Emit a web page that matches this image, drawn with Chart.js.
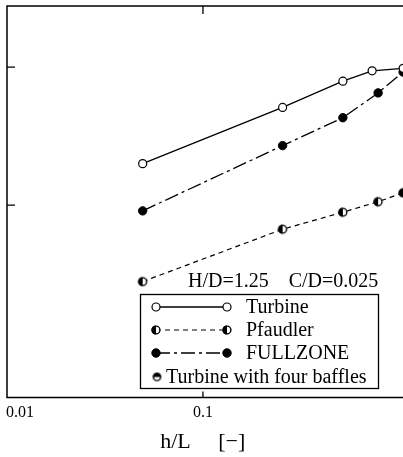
<!DOCTYPE html>
<html><head><meta charset="utf-8">
<script src="https://cdn.jsdelivr.net/npm/chart.js@4.4.1/dist/chart.umd.min.js"></script>
<style>
html,body{margin:0;padding:0;overflow:hidden;background:#fff;width:403px;height:457px}
#wrap{position:absolute;left:0;top:0;width:410px;height:457px}
canvas{display:block}
</style>
</head><body><div id="wrap"><canvas id="c" width="410" height="457"></canvas></div>
<script>
// ---- data ----
const hL_turbine  = [0.05, 0.25, 0.5, 0.7, 1.0];
const turbine     = [20, 51, 79, 94, 98];
const hL_pfaudler = [0.05, 0.25, 0.5, 0.75, 1.0];
const pfaudler    = [2.8, 6.7, 8.9, 10.6, 12.3];
const hL_fullzone = [0.05, 0.25, 0.5, 0.75, 1.0];
const fullzone    = [9.1, 27, 43, 65, 92];
const hL_baffles  = [];
const baffles     = [];
const xTickValues = [0.01, 0.1, 1];
const xTickLabels = ['\u20090.01', '0.1', ''];
const yTickValues = [10, 100];
const seriesNames = ['Turbine', 'Pfaudler', 'FULLZONE', 'Turbine with four baffles'];
const conditionText = 'H/D=1.25    C/D=0.025';
const xTitle = 'h/L     [\u2212] ';

const SERIF = '"Liberation Serif", "DejaVu Serif", serif';

function halfCircle(r, which) {
  const c = document.createElement('canvas');
  const s = Math.ceil(2 * r + 2);
  c.width = s; c.height = s;
  const g = c.getContext('2d');
  const cx = s / 2, cy = s / 2;
  g.fillStyle = '#fff';
  g.beginPath(); g.arc(cx, cy, r, 0, 2 * Math.PI); g.fill();
  g.fillStyle = '#000';
  g.beginPath();
  if (which === 'left') g.arc(cx, cy, r, Math.PI / 2, 3 * Math.PI / 2);
  else g.arc(cx, cy, r, Math.PI, 2 * Math.PI);
  g.closePath(); g.fill();
  g.lineWidth = 1.4; g.strokeStyle = '#000';
  g.beginPath(); g.arc(cx, cy, r - 0.7, 0, 2 * Math.PI); g.stroke();
  return c;
}
const halfLeft = halfCircle(4.6, 'left');
const halfTop = halfCircle(4.3, 'top');

const pts = (xs, ys) => xs.map((x, i) => ({x: x, y: ys[i]}));

const framePlugin = {
  id: 'frame',
  afterDraw(chart) {
    const {ctx, chartArea: a, scales} = chart;
    ctx.save();
    ctx.strokeStyle = '#000';
    ctx.lineWidth = 1.5;
    ctx.beginPath();
    ctx.moveTo(a.left, a.top); ctx.lineTo(a.right, a.top); ctx.lineTo(a.right, a.bottom);
    ctx.lineTo(a.left, a.bottom); ctx.closePath();
    ctx.stroke();
    ctx.lineWidth = 1.3;
    ctx.beginPath();
    xTickValues.forEach(v => {
      const px = scales.x.getPixelForValue(v);
      if (px <= a.left + 1 || px >= a.right - 1) return;
      ctx.moveTo(px, a.top); ctx.lineTo(px, a.top + 8);
      ctx.moveTo(px, a.bottom); ctx.lineTo(px, a.bottom - 6);
    });
    yTickValues.forEach(v => {
      const py = scales.y.getPixelForValue(v);
      ctx.moveTo(a.left, py); ctx.lineTo(a.left + 8, py);
    });
    ctx.stroke();
    ctx.restore();
  }
};

const legendPlugin = {
  id: 'customLegend',
  afterDraw(chart) {
    const ctx = chart.ctx;
    ctx.save();
    ctx.fillStyle = '#000';
    ctx.font = '20px ' + SERIF;
    ctx.textBaseline = 'middle';
    ctx.textAlign = 'left';
    ctx.fillText(conditionText, 188, 282);
    ctx.fillStyle = '#fff';
    ctx.fillRect(140, 294, 238, 94);
    ctx.strokeStyle = '#000';
    ctx.lineWidth = 1.3;
    ctx.strokeRect(140.5, 294.5, 238, 94);
    const rowsY = [307, 330, 353, 377];
    chart.data.datasets.forEach((ds, i) => {
      const y = rowsY[i];
      const ptOpts = {pointStyle: ds.pointStyle, radius: ds.pointRadius, rotation: 0, borderWidth: ds.pointBorderWidth || 1};
      let tx;
      if (i < 3) {
        ctx.save();
        ctx.strokeStyle = ds.borderColor;
        ctx.lineWidth = ds.borderWidth;
        ctx.setLineDash(ds.borderDash || []);
        ctx.beginPath(); ctx.moveTo(156, y); ctx.lineTo(227, y); ctx.stroke();
        ctx.restore();
        ctx.fillStyle = ds.pointBackgroundColor || '#000';
        ctx.strokeStyle = ds.pointBorderColor || '#000';
        ctx.lineWidth = ds.pointBorderWidth || 1;
        Chart.helpers.drawPoint(ctx, ptOpts, 156, y);
        Chart.helpers.drawPoint(ctx, ptOpts, 227, y);
        tx = 246;
      } else {
        ctx.fillStyle = ds.pointBackgroundColor || '#000';
        ctx.strokeStyle = ds.pointBorderColor || '#000';
        Chart.helpers.drawPoint(ctx, ptOpts, 157, y);
        tx = 166;
      }
      ctx.fillStyle = '#000';
      ctx.font = '20px ' + SERIF;
      ctx.textBaseline = 'middle';
      ctx.textAlign = 'left';
      ctx.fillText(seriesNames[i], tx, y + 1);
    });
    ctx.restore();
  }
};

new Chart(document.getElementById('c').getContext('2d'), {
  type: 'line',
  data: {
    datasets: [
      {label: seriesNames[0], data: pts(hL_turbine, turbine), borderColor: '#000', borderWidth: 1.3,
       pointStyle: 'circle', pointRadius: 4, pointBackgroundColor: '#fff', pointBorderColor: '#000', pointBorderWidth: 1.2, tension: 0},
      {label: seriesNames[1], data: pts(hL_pfaudler, pfaudler), borderColor: '#000', borderWidth: 1.2, borderDash: [5, 4],
       pointStyle: halfLeft, pointRadius: 4, pointBackgroundColor: '#000', pointBorderColor: '#000', pointBorderWidth: 1, tension: 0},
      {label: seriesNames[2], data: pts(hL_fullzone, fullzone), borderColor: '#000', borderWidth: 1.3, borderDash: [14, 4, 3, 4],
       pointStyle: 'circle', pointRadius: 4.2, pointBackgroundColor: '#000', pointBorderColor: '#000', pointBorderWidth: 1, tension: 0},
      {label: seriesNames[3], data: pts(hL_baffles, baffles), borderColor: '#000', borderWidth: 0, showLine: false,
       pointStyle: halfTop, pointRadius: 4, pointBackgroundColor: '#000', pointBorderColor: '#000', pointBorderWidth: 1}
    ]
  },
  options: {
    responsive: false, animation: false, devicePixelRatio: 1,
    layout: {padding: {left: 7, right: 6, top: 6, bottom: 2}},
    plugins: {legend: {display: false}, tooltip: {enabled: false}},
    scales: {
      x: {
        type: 'logarithmic', min: 0.0105, max: 1.01,
        afterBuildTicks: s => { s.ticks = xTickValues.map(v => ({value: v})); },
        afterFit: s => { s.paddingLeft = 0; s.paddingRight = 0; },
        ticks: {align: 'inner', padding: 6, color: '#000', autoSkip: false, maxRotation: 0,
                font: {family: SERIF, size: 16},
                callback: (v, i) => xTickLabels[i]},
        grid: {display: false, drawTicks: false}, border: {display: false},
        title: {display: true, text: xTitle, color: '#000', font: {family: SERIF, size: 22}, padding: {top: 0, bottom: 0}}
      },
      y: {
        type: 'logarithmic', min: 0.4063, max: 276.7, display: false,
        afterBuildTicks: s => { s.ticks = yTickValues.map(v => ({value: v})); }
      }
    }
  },
  plugins: [framePlugin, legendPlugin]
});
</script>
</body></html>
